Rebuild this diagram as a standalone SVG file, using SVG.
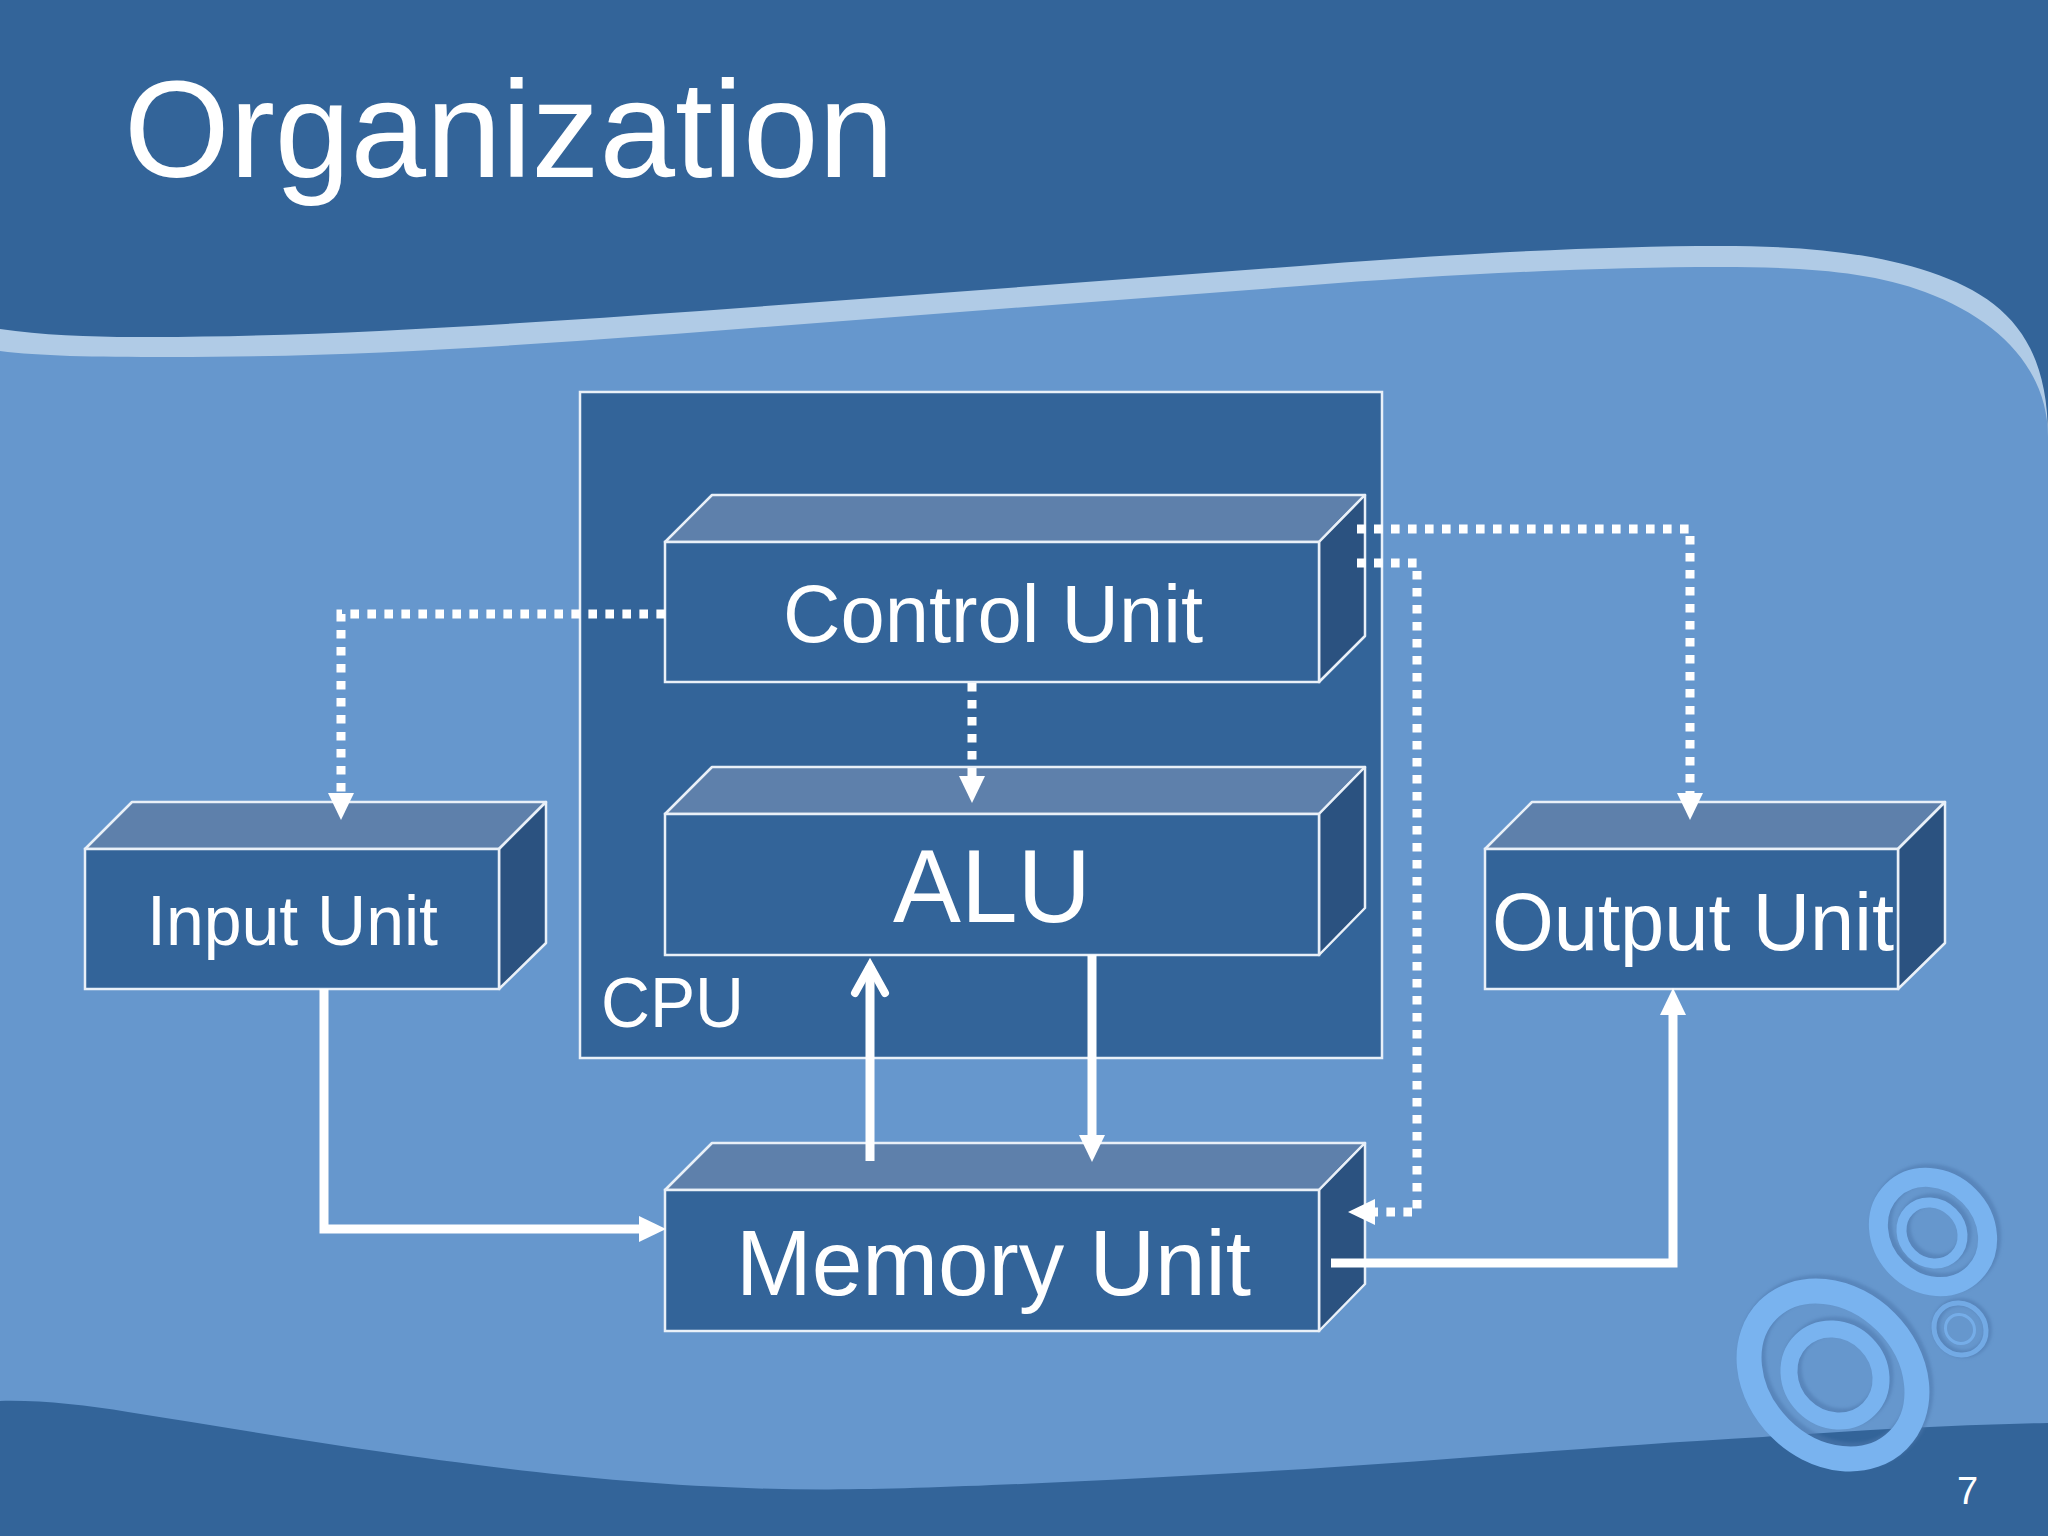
<svg xmlns="http://www.w3.org/2000/svg" width="2048" height="1536" viewBox="0 0 2048 1536">
<style>
.t{font-family:"Liberation Sans",Arial,sans-serif;fill:#fff}
.front{fill:#336499;stroke:#e9f0f8;stroke-width:2.5}
.top{fill:#5e80ab;stroke:#e9f0f8;stroke-width:2.5;stroke-linejoin:round}
.side{fill:#2b5280;stroke:#e9f0f8;stroke-width:2.5;stroke-linejoin:round}
.solid{fill:none;stroke:#fff;stroke-width:9}
.dot{fill:none;stroke:#fff;stroke-width:9;stroke-dasharray:8.6 8.4}
.ring{fill:none;stroke:#79b3ef}
.rs{fill:none;stroke:#4d78ad;opacity:.55;filter:url(#soft)}
</style>
<defs>
<filter id="soft" x="-20%" y="-20%" width="140%" height="140%"><feGaussianBlur stdDeviation="1.5"/></filter>
<marker id="tri" markerUnits="userSpaceOnUse" markerWidth="27" markerHeight="26" viewBox="0 0 27 26" refX="0" refY="13" orient="auto"><path d="M0,0L27,13L0,26Z" fill="#fff"/></marker>
<marker id="open" markerUnits="userSpaceOnUse" markerWidth="60" markerHeight="50" viewBox="-44 -25 60 50" refX="0" refY="0" orient="auto"><path d="M-27,-15L0,0L-27,15" fill="none" stroke="#fff" stroke-width="8" stroke-linecap="round"/></marker>
</defs>
<g id="background">
<rect width="2048" height="1536" fill="#336499"/>
<path fill="#b0cbe6" d="M0,329C40,335 90,337 134,337C300,338 500,325 700,311L1300,266C1450,254 1600,246 1720,246C1800,246 1870,252 1930,272C2005,297 2048,340 2048,437V1000H0Z"/>
<path fill="#6697cd" d="M0,351C40,356 90,357 170,357C350,357 500,347 700,332L1300,286C1450,274 1600,267 1720,267C1800,267 1870,271 1925,292C2000,320 2048,370 2048,437V1536H0Z"/>
<path fill="#336499" d="M0,1401C40,1400 85,1405 128,1412C210,1425 300,1440 383,1452C480,1466 650,1490 829,1489.5C950,1489 1150,1478 1306,1469C1450,1460 1600,1446 1763,1437C1850,1431 1950,1425 2048,1423V1536H0Z"/>
</g>
<g id="rings">
<ellipse class="rs" cx="1836" cy="1372" rx="92" ry="75" stroke-width="27" transform="rotate(45 1836 1372)"/>
<ellipse class="ring" cx="1833" cy="1375" rx="92" ry="75" stroke-width="25" transform="rotate(45 1833 1375)"/>
<ellipse class="rs" cx="1838" cy="1372" rx="48" ry="44" stroke-width="19" transform="rotate(45 1838 1372)"/>
<ellipse class="ring" cx="1835" cy="1375" rx="48" ry="44" stroke-width="17" transform="rotate(45 1835 1375)"/>
<ellipse class="rs" cx="1936" cy="1229" rx="58" ry="51" stroke-width="21" transform="rotate(45 1936 1229)"/>
<ellipse class="ring" cx="1933" cy="1232" rx="58" ry="51" stroke-width="19" transform="rotate(45 1933 1232)"/>
<ellipse class="rs" cx="1935" cy="1230" rx="32" ry="29" stroke-width="12" transform="rotate(45 1935 1230)"/>
<ellipse class="ring" cx="1932" cy="1233" rx="32" ry="29" stroke-width="10" transform="rotate(45 1932 1233)"/>
<ellipse class="rs" cx="1962" cy="1328" rx="27" ry="25" stroke-width="8" transform="rotate(45 1962 1328)"/>
<ellipse class="ring" cx="1960" cy="1329" rx="27" ry="25" stroke-width="5" transform="rotate(45 1960 1329)" opacity=".8"/>
<ellipse class="ring" cx="1960" cy="1329" rx="15" ry="14" stroke-width="3" transform="rotate(45 1960 1329)" opacity=".8"/>
</g>
<text class="t" x="124" y="177" font-size="138" textLength="770" lengthAdjust="spacingAndGlyphs">Organization</text>
<g id="cpu">
<rect x="580" y="392" width="802" height="666" fill="#336499" stroke="#e9f0f8" stroke-width="2.5"/>
<text class="t" x="601" y="1027" font-size="70" textLength="143" lengthAdjust="spacingAndGlyphs">CPU</text>
</g>
<g id="control-unit">
<path class="top" d="M665,542L712,495H1365L1319,542Z"/>
<path class="side" d="M1319,542L1365,495V636L1319,682Z"/>
<rect class="front" x="665" y="542" width="654" height="140"/>
<text class="t" x="783" y="642" font-size="82" textLength="420" lengthAdjust="spacingAndGlyphs">Control Unit</text>
</g>
<g id="alu">
<path class="top" d="M665,814L712,767H1365L1319,814Z"/>
<path class="side" d="M1319,814L1365,767V908L1319,955Z"/>
<rect class="front" x="665" y="814" width="654" height="141"/>
<text class="t" x="893" y="922" font-size="104" textLength="198" lengthAdjust="spacingAndGlyphs">ALU</text>
</g>
<g id="input-unit">
<path class="top" d="M85,849L132,802H546L499,849Z"/>
<path class="side" d="M499,849L546,802V943L499,989Z"/>
<rect class="front" x="85" y="849" width="414" height="140"/>
<text class="t" x="147" y="945" font-size="70" textLength="291" lengthAdjust="spacingAndGlyphs">Input Unit</text>
</g>
<g id="output-unit">
<path class="top" d="M1485,849L1532,802H1945L1898,849Z"/>
<path class="side" d="M1898,849L1945,802V943L1898,989Z"/>
<rect class="front" x="1485" y="849" width="413" height="140"/>
<text class="t" x="1492" y="950" font-size="82" textLength="402" lengthAdjust="spacingAndGlyphs">Output Unit</text>
</g>
<g id="memory-unit">
<path class="top" d="M665,1190L712,1143H1365L1319,1190Z"/>
<path class="side" d="M1319,1190L1365,1143V1284L1319,1331Z"/>
<rect class="front" x="665" y="1190" width="654" height="141"/>
<text class="t" x="736" y="1295" font-size="93" textLength="515" lengthAdjust="spacingAndGlyphs">Memory Unit</text>
</g>
<g id="connectors">
<path class="dot" marker-end="url(#tri)" d="M665,614H341V793"/>
<path class="dot" marker-end="url(#tri)" d="M972,683V776"/>
<path class="dot" marker-end="url(#tri)" d="M1357,529H1690V793"/>
<path class="dot" marker-end="url(#tri)" d="M1357,563H1417V1212H1375"/>
<path class="solid" marker-end="url(#open)" d="M870,1161V966"/>
<path class="solid" marker-end="url(#tri)" d="M1092,955V1135"/>
<path class="solid" marker-end="url(#tri)" d="M324,989V1229H639"/>
<path class="solid" marker-end="url(#tri)" d="M1331,1263H1673V1015"/>
</g>
<text class="t" x="1957" y="1504" font-size="38">7</text>
</svg>
